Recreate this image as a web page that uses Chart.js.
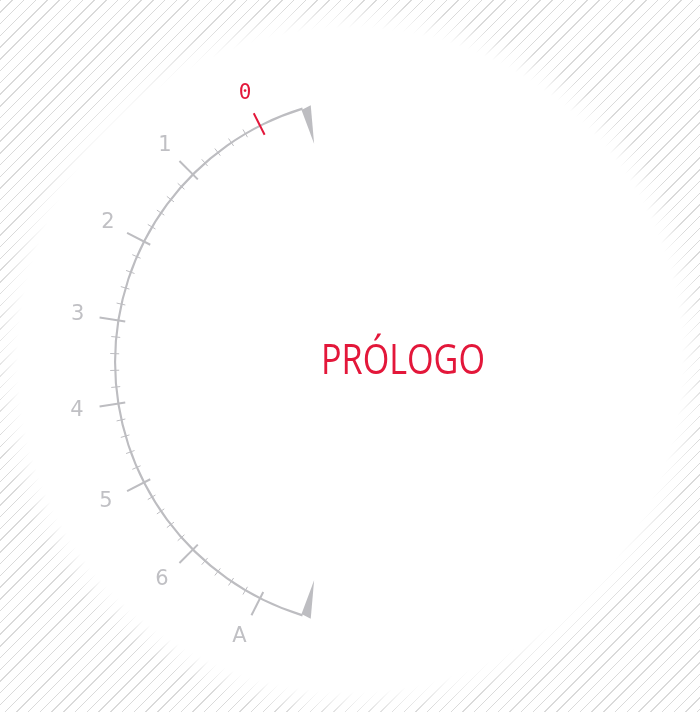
<!DOCTYPE html>
<html>
<head>
<meta charset="utf-8">
<script src="https://cdn.jsdelivr.net/npm/chart.js@4"></script>
<style>
  html, body { margin: 0; padding: 0; }
  body {
    width: 700px; height: 712px; overflow: hidden; position: relative;
    background: repeating-linear-gradient(135deg, #dadada 0, #dadada 1px, #fff 1px, #fff 8.3px);
  }
  #glow {
    position: absolute; left: 0; top: 0; width: 700px; height: 712px;
    background: radial-gradient(circle at 350px 360px, #fff 0, #fff 332px, rgba(255,255,255,0) 358px);
  }
  #wrap { position: absolute; left: 0; top: 0; width: 700px; height: 712px; }
</style>
</head>
<body>
<div id="glow"></div>
<div id="wrap"><canvas id="dial"></canvas></div>
<script>
// dial labels, first one is the current position
var tickLabels = ['0', '1', '2', '3', '4', '5', '6', 'A'];
var minorSteps = 5;          // subdivisions between two labels
var scaleMin = -0.55;        // arc runs a bit past the first label
var scaleMax = 7.55;         // ... and past the last one
var dialSweep = [146, 214];  // degrees: visible arc, hidden rest
var currentValue = 0;
var title = 'PRÓLOGO';

var grey = '#bdbdc1';
var labelGrey = '#c0c0c4';
var red = '#e3173a';

var dialPlugin = {
    id: 'dial',
    afterDatasetsDraw: function(chart) {
        var arc = chart.getDatasetMeta(0).data[0];
        var ctx = chart.ctx;
        var cx = arc.x, cy = arc.y, r = (arc.outerRadius + arc.innerRadius) / 2;
        var a0 = arc.startAngle, a1 = arc.endAngle;

        function angleOf(v) {
            return a1 - (v - scaleMin) / (scaleMax - scaleMin) * (a1 - a0);
        }
        function pt(a, rad) {
            return [cx + Math.cos(a) * rad, cy + Math.sin(a) * rad];
        }
        function line(a, rIn, rOut, color, w) {
            var p = pt(a, rIn), q = pt(a, rOut);
            ctx.beginPath();
            ctx.moveTo(p[0], p[1]);
            ctx.lineTo(q[0], q[1]);
            ctx.strokeStyle = color;
            ctx.lineWidth = w;
            ctx.stroke();
        }

        ctx.save();
        // minor ticks
        var last = tickLabels.length - 1;
        for (var i = 0; i <= last * minorSteps; i++) {
            if (i % minorSteps === 0) continue;
            line(angleOf(i / minorSteps), r - 4, r + 5, grey, 1);
        }
        // major ticks and labels
        ctx.textAlign = 'center';
        ctx.textBaseline = 'alphabetic';
        tickLabels.forEach(function(lbl, k) {
            var a = angleOf(k);
            var size = 21, lr = 306.5;
            if (k === currentValue) {
                line(a, r - 10, r + 14, red, 2);
                ctx.font = size + 'px "DejaVu Sans Mono"';
                ctx.fillStyle = red;
                lr = 302;
            } else {
                line(a, r - 7, r + 19, grey, 2);
                ctx.font = size + 'px "DejaVu Sans"';
                ctx.fillStyle = labelGrey;
            }
            var p = pt(a + 0.4 * Math.PI / 180, lr);
            ctx.fillText(lbl, p[0], p[1] + 0.365 * size);
        });

        // needle wedges at both ends of the arc
        ctx.fillStyle = grey;
        [[a1, 1], [a0, -1]].forEach(function(e) {
            var a = e[0], s = e[1] * Math.PI / 180;
            var p1 = pt(a - 0.3 * s, r - 1);
            var p2 = pt(a + 1.9 * s, r + 1);
            var p3 = pt(a + 0.2 * s, r - 37);
            ctx.beginPath();
            ctx.moveTo(p1[0], p1[1]);
            ctx.lineTo(p2[0], p2[1]);
            ctx.lineTo(p3[0], p3[1]);
            ctx.closePath();
            ctx.fill();
        });

        // title
        ctx.font = '42px "Open Sans"';
        ctx.fillStyle = red;
        ctx.textAlign = 'center';
        ctx.fillText(title, 403, 374, 164);
        ctx.restore();
    }
};

window.onload = function() {
    var dialData = {
        labels: ['arc', 'rest'],
        datasets: [{
            data: dialSweep,
            backgroundColor: [grey, 'rgba(0,0,0,0)'],
            borderWidth: 0
        }]
    };

    var dialConfig = {
        type: 'doughnut',
        data: dialData,
        options: {
            responsive: false,
            maintainAspectRatio: false,
            animation: false,
            events: [],
            rotation: 197,
            circumference: 360,
            radius: 266,
            cutout: '99.2%',
            layout: { padding: { left: 60, top: 12 } },
            plugins: {
                legend: { display: false },
                tooltip: { enabled: false }
            }
        },
        plugins: [dialPlugin]
    };

    var canvas = document.getElementById('dial');
    canvas.width = 700;
    canvas.height = 712;
    var dialChart = new Chart(canvas, dialConfig);
};
</script>
</body>
</html>
